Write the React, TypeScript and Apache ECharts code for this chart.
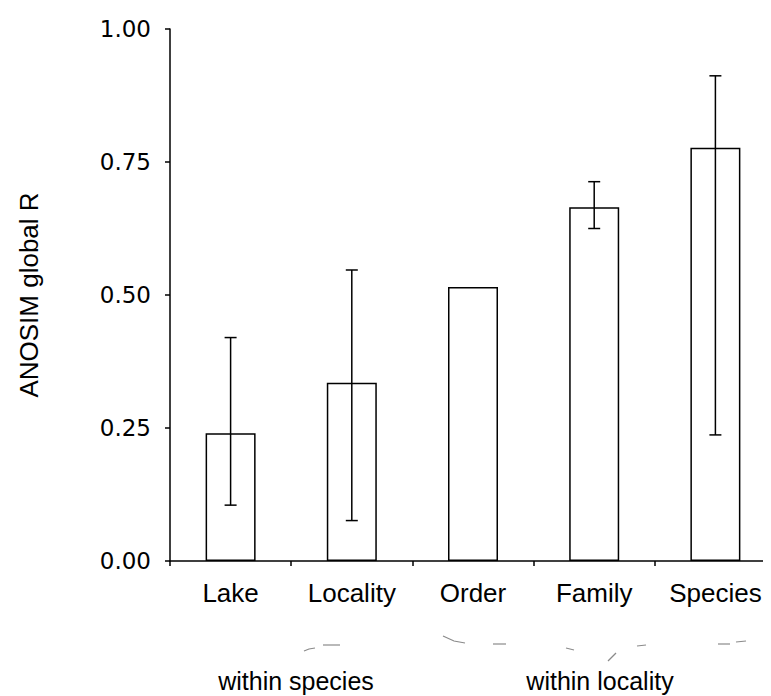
import React, { useEffect, useRef } from "react";
import * as echarts from "echarts";

const categories = ["Lake", "Locality", "Order", "Family", "Species"];
const globalR = [0.24, 0.335, 0.515, 0.665, 0.777];
const errLow: (number | null)[] = [0.105, 0.076, null, 0.625, 0.237];
const errHigh: (number | null)[] = [0.42, 0.547, null, 0.713, 0.912];
const yTicks = [0, 0.25, 0.5, 0.75, 1.0];
const groupLabels = ["within species", "within locality"];

export default function App() {
  const ref = useRef<HTMLDivElement>(null);
  useEffect(() => {
    if (!ref.current) return;
    const chart = echarts.init(ref.current, undefined, { renderer: "svg" });
    const errData = categories.map((_, i) => [i, errLow[i], errHigh[i]]).filter((d) => d[1] !== null);
    const grey = "#8a8a8a";
    const dash = (x1: number, y1: number, x2: number, y2: number) => ({
      type: "line",
      shape: { x1, y1, x2, y2 },
      style: { stroke: grey, lineWidth: 1.2 },
    });
    chart.setOption({
      animation: false,
      backgroundColor: "#ffffff",
      grid: { left: 152, right: 3, top: 21, bottom: 143, containLabel: false },
      xAxis: {
        type: "category",
        data: categories,
        axisLine: { show: true, lineStyle: { color: "#000", width: 1.5 } },
        axisTick: { show: true, inside: false, length: 5, alignWithLabel: false, lineStyle: { color: "#000", width: 1.5 } },
        axisLabel: { color: "#000", fontFamily: "Liberation Sans", fontSize: 26, margin: 19, interval: 0, hideOverlap: false },
        splitLine: { show: false },
      },
      yAxis: {
        type: "value",
        min: yTicks[0],
        max: yTicks[yTicks.length - 1],
        interval: 0.25,
        name: "ANOSIM global R",
        nameLocation: "middle",
        nameGap: 128,
        nameRotate: 90,
        nameTextStyle: { color: "#000", fontFamily: "Liberation Sans", fontSize: 26 },
        axisLine: { show: true, lineStyle: { color: "#000", width: 1.5 } },
        axisTick: { show: true, inside: false, length: 5, lineStyle: { color: "#000", width: 1.5 } },
        axisLabel: {
          color: "#000",
          fontFamily: "DejaVu Sans",
          fontSize: 23,
          margin: 19,
          formatter: (v: number) => v.toFixed(2),
        },
        splitLine: { show: false },
      },
      series: [
        {
          type: "bar",
          data: globalR,
          barWidth: 50,
          itemStyle: { color: "#fff", borderColor: "#000", borderWidth: 1.5 },
          z: 2,
        },
        {
          type: "custom",
          data: errData,
          z: 3,
          renderItem: (params: any, api: any) => {
            const x = api.value(0);
            const lo = api.coord([x, api.value(1)]);
            const hi = api.coord([x, api.value(2)]);
            const cx = lo[0];
            const hw = 6;
            const st = { stroke: "#000", lineWidth: 1.5 };
            return {
              type: "group",
              children: [
                { type: "line", shape: { x1: cx, y1: lo[1], x2: cx, y2: hi[1] }, style: st },
                { type: "line", shape: { x1: cx - hw, y1: lo[1], x2: cx + hw, y2: lo[1] }, style: st },
                { type: "line", shape: { x1: cx - hw, y1: hi[1], x2: cx + hw, y2: hi[1] }, style: st },
              ],
            };
          },
        },
      ],
      graphic: [
        { type: "text", x: 288, y: 673, style: { text: groupLabels[0], fill: "#000", font: "25px 'Liberation Sans'", textAlign: "center", textVerticalAlign: "middle" } },
        { type: "text", x: 592, y: 673, style: { text: groupLabels[1], fill: "#000", font: "25px 'Liberation Sans'", textAlign: "center", textVerticalAlign: "middle" } },
        { type: "polyline", shape: { points: [[296, 643], [301, 641], [307, 640]] }, style: { stroke: grey, lineWidth: 1.2, fill: null } },
        dash(315, 637, 332, 637),
        { type: "polyline", shape: { points: [[435, 628], [446, 633], [457, 635]] }, style: { stroke: grey, lineWidth: 1.2, fill: null } },
        dash(485, 636, 498, 636),
        dash(558, 640, 566, 642),
        dash(600, 653, 608, 645),
        dash(629, 638, 638, 637),
        dash(710, 636, 722, 636),
        dash(728, 634, 738, 633),
      ],
    });
    return () => chart.dispose();
  }, []);
  return <div ref={ref} style={{ width: 771, height: 696 }} />;
}
